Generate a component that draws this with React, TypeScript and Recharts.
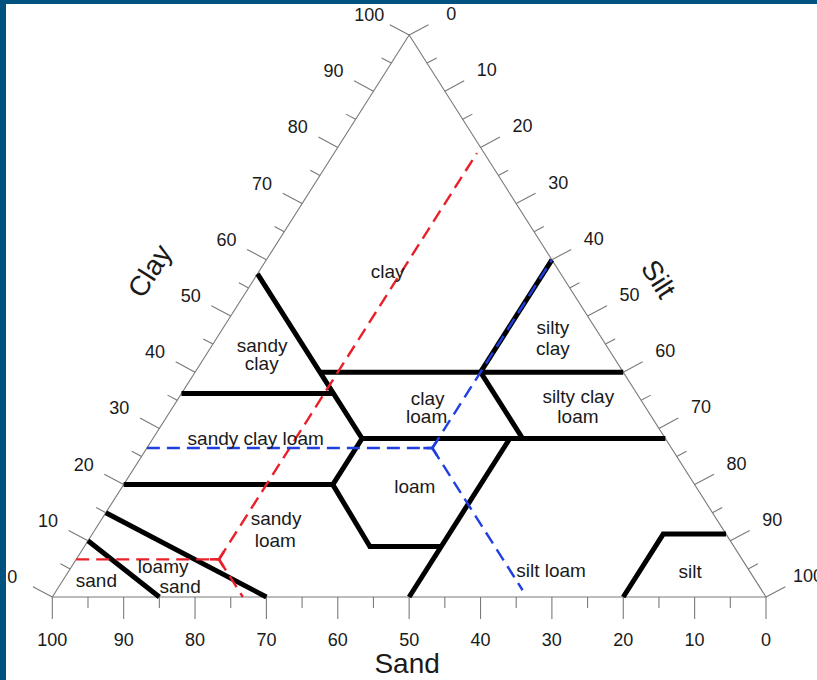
import React from 'react';
import { ScatterChart, Scatter, XAxis, YAxis } from 'recharts';

const CHART_W = 817;
const CHART_H = 680;

// where the triangle sits on the canvas (px)
const ORIGIN_X = 52.3;
const BASE_Y = 597;
const BASE_W = 713.7;
const TRI_H = 562;
const KX = BASE_W / 100;
const KY = TRI_H / 100;

const X_DOMAIN = [-ORIGIN_X / KX, (CHART_W - ORIGIN_X) / KX];
const Y_DOMAIN = [-(CHART_H - BASE_Y) / KY, BASE_Y / KY];

const FONT = '"Liberation Sans", Arial, Helvetica, sans-serif';
const INK = '#1a1a1a';
const AXIS_GREY = '#7a7a7a';
const RED = '#e8202a';
const BLUE = '#1f3fe0';

// ---- data ----
const tickSteps = [0, 5, 10, 15, 20, 25, 30, 35, 40, 45, 50, 55, 60, 65, 70, 75, 80, 85, 90, 95, 100];
const labelSteps = [0, 10, 20, 30, 40, 50, 60, 70, 80, 90, 100];

// class boundaries as [sand %, clay %]
const outline = [[100, 0], [0, 0], [0, 100], [100, 0]];
const sandLoamySand = [[85, 0], [90, 10]];
const loamySandSandyLoam = [[70, 0], [85, 15]];
const sandyLoamLoam = [[80, 20], [50.7, 20], [51, 9], [41, 9]];
const sandyClayEdge = [[50.7, 20], [42.5, 28.2], [42.5, 57.5]];
const clayLoamBase = [[42.5, 28.2], [0, 28.2]];
const sandyClayBase = [[63.8, 36.2], [42.5, 36.2]];
const clayBase = [[42.5, 40], [0, 40]];
const clayLoamRight = [[20, 40], [20, 28.2]];
const siltyClayLeft = [[20, 40], [0, 60]];
const siltLoamLeft = [[50, 0], [21.8, 28.2]];
const siltEdge = [[20, 0], [8.8, 11.2], [0, 11.2]];

// worked examples
const redSample = [73.3, 6.7];
const redClayLine = [[93.3, 6.7], [73.3, 6.7]];
const redSiltLine = [[73.3, 6.7], [1, 79]];
const redSandLine = [[73.3, 6.7], [73.3, 0]];
const blueSample = [33.5, 26.5];
const blueClayLine = [[73.5, 26.5], [33.5, 26.5]];
const blueSiltLine = [[33.5, 26.5], [0, 60]];
const blueSandLine = [[33.5, 26.5], [33.5, 1.2]];

const classLabels = [
  { text: 'clay', sand: 24, clay: 58 },
  { text: 'sandy', sand: 48.2, clay: 44.8 },
  { text: 'clay', sand: 49.9, clay: 41.5 },
  { text: 'silty', sand: 5.9, clay: 47.9 },
  { text: 'clay', sand: 7.7, clay: 44.3 },
  { text: 'clay', sand: 29.7, clay: 35.4 },
  { text: 'loam', sand: 31.5, clay: 32.1 },
  { text: 'silty clay', sand: 8.5, clay: 35.6 },
  { text: 'loam', sand: 10.3, clay: 32.1 },
  { text: 'sandy clay loam', sand: 57.4, clay: 28.2 },
  { text: 'loam', sand: 39.4, clay: 19.6 },
  { text: 'sandy', sand: 61.7, clay: 13.9 },
  { text: 'loam', sand: 63.7, clay: 10.1 },
  { text: 'loamy', sand: 81.8, clay: 5.34 },
  { text: 'sand', sand: 81.2, clay: 1.78 },
  { text: 'sand', sand: 92.4, clay: 2.85 },
  { text: 'silt loam', sand: 27.8, clay: 4.63 },
  { text: 'silt', sand: 8.4, clay: 4.45 },
];

// ternary (sand, clay) -> plot units: x = silt + clay / 2, y = clay
const tp = (p: number[]) => ({ x: 100 - p[0] - p[1] / 2, y: p[1] });
const pts = (list: number[][]) => list.map(tp);

const noDot = () => <g />;

const tickShape = (ux: number, uy: number) => (props: any) => {
  const { cx, cy, payload } = props;
  const len = payload.major ? 22 : 11;
  return <line x1={cx} y1={cy} x2={cx + ux * len} y2={cy + uy * len} stroke={AXIS_GREY} strokeWidth={1.1} />;
};

const textShape = (dx: number, dy: number, size: number, rotate = 0) => (props: any) => {
  const { cx, cy, payload } = props;
  const x = cx + dx;
  const y = cy + dy;
  return (
    <text
      x={x}
      y={y}
      textAnchor="middle"
      dominantBaseline="central"
      fontSize={size}
      fontFamily={FONT}
      fill={INK}
      transform={rotate ? `rotate(${rotate} ${x} ${y})` : undefined}
    >
      {payload.text}
    </text>
  );
};

const junctionShape = (color: string) => (props: any) => {
  const { cx, cy } = props;
  const dirs = [[-1, 0], [0.536, -0.844], [0.536, 0.844]];
  return (
    <g>
      {dirs.map((d, i) => (
        <line key={i} x1={cx} y1={cy} x2={cx + d[0] * 9} y2={cy + d[1] * 9} stroke={color} strokeWidth={2.6} />
      ))}
    </g>
  );
};

const boundaries = [
  sandLoamySand, loamySandSandyLoam, sandyLoamLoam, sandyClayEdge, clayLoamBase,
  sandyClayBase, clayBase, clayLoamRight, siltyClayLeft, siltLoamLeft, siltEdge,
];
const redLines = [redClayLine, redSiltLine, redSandLine];
const blueLines = [blueClayLine, blueSiltLine, blueSandLine];

const bottomTicks = tickSteps.map((v) => ({ ...tp([v, 0]), major: v % 10 === 0 }));
const leftTicks = tickSteps.map((v) => ({ ...tp([100 - v, v]), major: v % 10 === 0 }));
const rightTicks = tickSteps.map((v) => ({ ...tp([0, 100 - v]), major: v % 10 === 0 }));

const bottomLabels = labelSteps.map((v) => ({ ...tp([v, 0]), text: String(v) }));
const leftLabels = labelSteps.map((v) => ({ ...tp([100 - v, v]), text: String(v) }));
const rightLabels = labelSteps.map((v) => ({ ...tp([0, 100 - v]), text: String(v) }));

const regionLabels = classLabels.map((c) => ({ ...tp([c.sand, c.clay]), text: c.text }));

const SoilTriangle = () => {
  return (
    <div style={{ position: 'absolute', left: 0, top: 0, width: CHART_W, height: CHART_H, background: '#fff', overflow: 'hidden' }}>
      <ScatterChart width={CHART_W} height={CHART_H} margin={{ top: 0, right: 0, bottom: 0, left: 0 }}>
        <XAxis type="number" dataKey="x" domain={X_DOMAIN} allowDataOverflow hide />
        <YAxis type="number" dataKey="y" domain={Y_DOMAIN} allowDataOverflow hide />

        <Scatter data={pts(outline)} line={{ stroke: AXIS_GREY, strokeWidth: 1.1 }} shape={noDot} isAnimationActive={false} />
        <Scatter data={bottomTicks} shape={tickShape(0, 1)} isAnimationActive={false} />
        <Scatter data={leftTicks} shape={tickShape(-0.88, -0.47)} isAnimationActive={false} />
        <Scatter data={rightTicks} shape={tickShape(0.88, -0.47)} isAnimationActive={false} />

        {boundaries.map((b, i) => (
          <Scatter key={`b${i}`} data={pts(b)} line={{ stroke: '#000', strokeWidth: 5 }} shape={noDot} isAnimationActive={false} />
        ))}
        {redLines.map((b, i) => (
          <Scatter key={`r${i}`} data={pts(b)} line={{ stroke: RED, strokeWidth: 2.4, strokeDasharray: '13 7' }} shape={noDot} isAnimationActive={false} />
        ))}
        {blueLines.map((b, i) => (
          <Scatter key={`u${i}`} data={pts(b)} line={{ stroke: BLUE, strokeWidth: 2.4, strokeDasharray: '13 7' }} shape={noDot} isAnimationActive={false} />
        ))}
        <Scatter data={[tp(redSample)]} shape={junctionShape(RED)} isAnimationActive={false} />
        <Scatter data={[tp(blueSample)]} shape={junctionShape(BLUE)} isAnimationActive={false} />

        <Scatter data={regionLabels} shape={textShape(0, 0, 19)} isAnimationActive={false} />

        <Scatter data={bottomLabels} shape={textShape(0, 43, 18)} isAnimationActive={false} />
        <Scatter data={leftLabels} shape={textShape(-40, -20, 18)} isAnimationActive={false} />
        <Scatter data={rightLabels} shape={textShape(42, -21, 18)} isAnimationActive={false} />

        <Scatter data={[{ ...tp([50, 0]), text: 'Sand' }]} shape={textShape(-2, 66, 28)} isAnimationActive={false} />
        <Scatter data={[{ ...tp([50, 50]), text: 'Clay' }]} shape={textShape(-81, -45, 28, -57.6)} isAnimationActive={false} />
        <Scatter data={[{ ...tp([0, 50]), text: 'Silt' }]} shape={textShape(71, -37, 28, 57.6)} isAnimationActive={false} />
      </ScatterChart>

      {/* dark blue frame of the original figure */}
      <div style={{ position: 'absolute', left: 0, top: 0, width: CHART_W, height: 4, background: '#02527f' }} />
      <div style={{ position: 'absolute', left: 0, top: 0, width: 6, height: CHART_H, background: '#02527f' }} />
    </div>
  );
};

export default function App() {
  return <SoilTriangle />;
}
